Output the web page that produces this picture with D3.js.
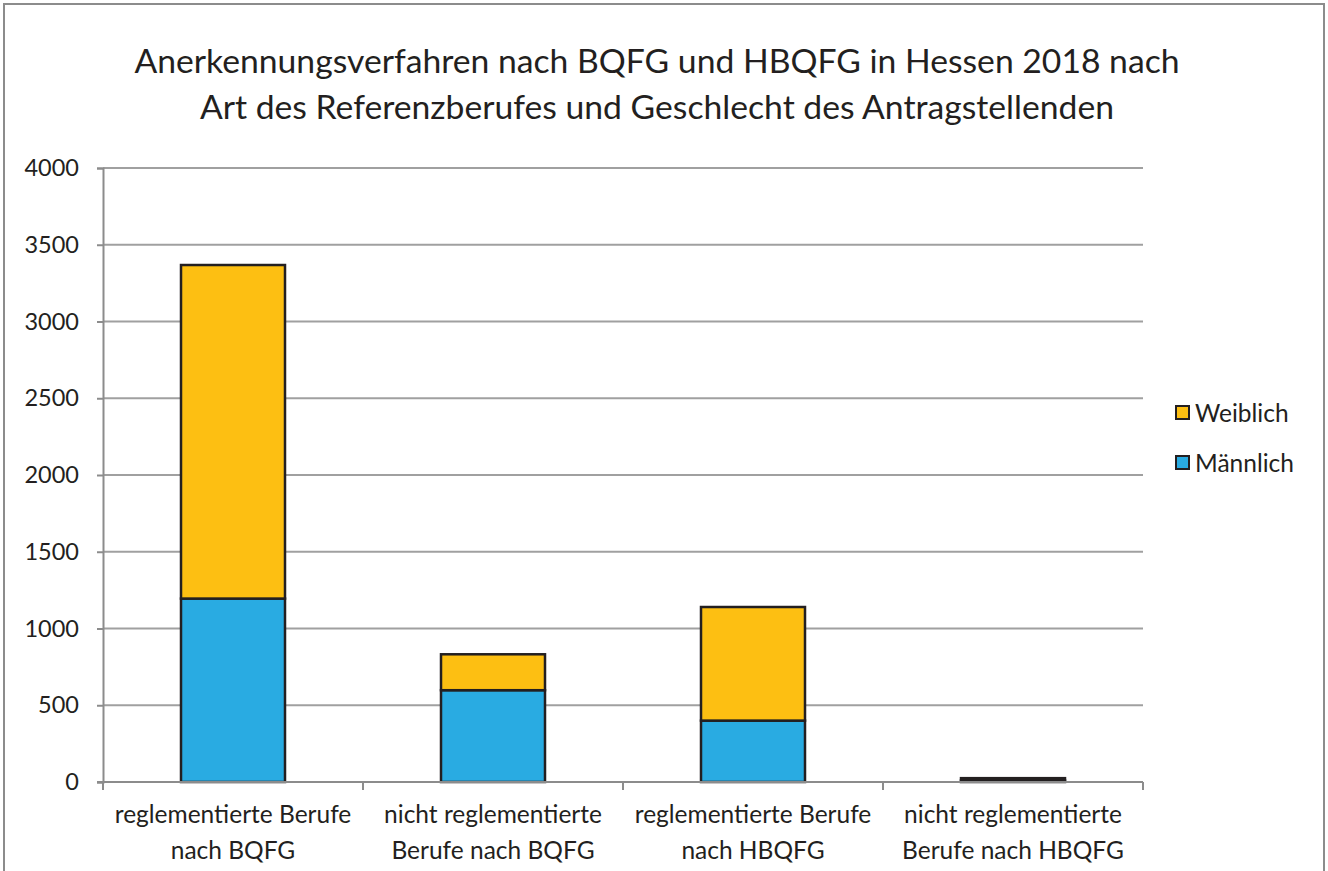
<!DOCTYPE html>
<html><head><meta charset="utf-8">
<script src="https://cdn.jsdelivr.net/npm/d3@7"></script>
<style>
html,body{margin:0;padding:0;background:#fff;}
svg{display:block;font-family:Lato,"Open Sans",sans-serif;}
</style></head>
<body>
<svg id="chart" width="1328" height="871"></svg>
<script>
const titleLines = ["Anerkennungsverfahren nach BQFG und HBQFG in Hessen 2018 nach","Art des Referenzberufes und Geschlecht des Antragstellenden"];
const categories = [["reglementierte Berufe","nach BQFG"],["nicht reglementierte","Berufe nach BQFG"],["reglementierte Berufe","nach HBQFG"],["nicht reglementierte","Berufe nach HBQFG"]];
const maennlich = [1195, 598, 400, 10];
const weiblich = [2173, 234, 740, 15];
const yTicks = [0,500,1000,1500,2000,2500,3000,3500,4000];
const seriesNames = ["Männlich","Weiblich"];
const colors = {"Männlich":"#29ABE2","Weiblich":"#FDBF12"};

const svg = d3.select("#chart");
svg.append("rect").attr("x",4).attr("y",4).attr("width",1320).attr("height",880)
  .attr("fill","#fff").attr("stroke","#8c8c8c").attr("stroke-width",2);

const m={left:103,right:1143,top:168,bottom:782};
const x=d3.scaleBand().domain(d3.range(categories.length)).range([m.left,m.right]).paddingInner(0.6).paddingOuter(0.3);
const y=d3.scaleLinear().domain([0,4000]).range([m.bottom,m.top]);

// title
const t=svg.append("text").attr("text-anchor","middle").attr("font-size",33.7).attr("fill","#231F20");
titleLines.forEach((l,i)=>t.append("tspan").attr("x",657).attr("y",73+i*46).text(l));

// gridlines
svg.append("g").selectAll("line").data(yTicks.filter(d=>d>0)).join("line")
  .attr("x1",m.left).attr("x2",m.right).attr("y1",d=>y(d)).attr("y2",d=>y(d))
  .attr("stroke","#a0a0a0").attr("stroke-width",2);

// y axis
const ya=svg.append("g").attr("transform",`translate(${m.left},0)`)
  .call(d3.axisLeft(y).tickValues(yTicks).tickSize(6).tickPadding(18).tickFormat(d3.format("d")));
ya.select(".domain").attr("stroke","#8c8c8c").attr("stroke-width",2);
ya.selectAll(".tick line").attr("stroke","#8c8c8c").attr("stroke-width",2);
ya.selectAll(".tick text").attr("font-size",23.5).attr("fill","#231F20").attr("font-family","Lato,'Open Sans',sans-serif");

// stacked bars
const rows=categories.map((c,i)=>({i,"Männlich":maennlich[i],"Weiblich":weiblich[i]}));
const stack=d3.stack().keys(seriesNames)(rows);
svg.append("g").selectAll("g").data(stack).join("g").attr("fill",d=>colors[d.key])
  .selectAll("rect").data(d=>d).join("rect")
  .attr("x",d=>x(d.data.i)).attr("width",x.bandwidth())
  .attr("y",d=>y(d[1])).attr("height",d=>y(d[0])-y(d[1]))
  .attr("stroke","#231F20").attr("stroke-width",2.5);

// x axis
const xb=d3.scaleLinear().domain([0,categories.length]).range([m.left,m.right]);
const xa=svg.append("g").attr("transform",`translate(0,${m.bottom})`);
xa.append("line").attr("x1",m.left-6).attr("x2",m.right).attr("stroke","#8c8c8c").attr("stroke-width",2);
xa.selectAll("line.tk").data(d3.range(categories.length+1)).join("line").attr("class","tk")
  .attr("x1",d=>xb(d)).attr("x2",d=>xb(d)).attr("y1",0).attr("y2",8).attr("stroke","#8c8c8c").attr("stroke-width",2);
const lab=xa.selectAll("text.cat").data(categories).join("text").attr("class","cat")
  .attr("text-anchor","middle").attr("font-size",24.5).attr("fill","#231F20");
lab.each(function(c,i){
  const s=d3.select(this);
  c.forEach((l,j)=>s.append("tspan").attr("x",x(i)+x.bandwidth()/2).attr("y",41+j*36).text(l));
});

// legend
const leg=svg.append("g");
["Weiblich","Männlich"].forEach((k,i)=>{
  const g=leg.append("g").attr("transform",`translate(1176,${406+i*50})`);
  g.append("rect").attr("width",13).attr("height",13).attr("fill",colors[k]).attr("stroke","#231F20").attr("stroke-width",2);
  g.append("text").attr("x",19).attr("y",16).attr("font-size",24.5).attr("fill","#231F20").text(k);
});
</script>
</body></html>
